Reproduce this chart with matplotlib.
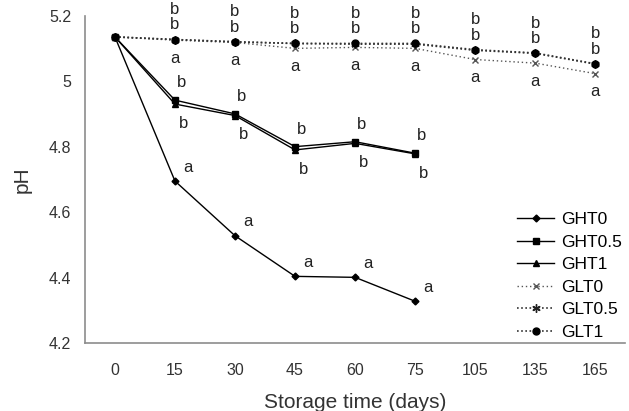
import matplotlib.pyplot as plt
import numpy as np

plt.rcParams['font.family'] = ['Liberation Sans', 'DejaVu Sans']

days = ['0', '15', '30', '45', '60', '75', '105', '135', '165']

# pH values
ght0 = [5.135, 4.695, 4.528, 4.404, 4.401, 4.328]
ght05 = [5.135, 4.942, 4.900, 4.800, 4.815, 4.780]
ght1 = [5.135, 4.930, 4.895, 4.790, 4.810, 4.778]
glt0 = [5.135, 5.125, 5.118, 5.100, 5.103, 5.100, 5.066, 5.055, 5.023]
glt05 = [5.135, 5.127, 5.120, 5.115, 5.113, 5.113, 5.094, 5.085, 5.052]
glt1 = [5.135, 5.127, 5.120, 5.115, 5.115, 5.115, 5.096, 5.086, 5.053]

# significance letters
letters_ght0 = ['', 'a', 'a', 'a', 'a', 'a']
letters_ght_up = ['', 'b', 'b', 'b', 'b', 'b']
letters_ght_dn = ['', 'b', 'b', 'b', 'b', 'b']
letters_glt_up = ['', 'b', 'b', 'b', 'b', 'b', 'b', 'b', 'b']
letters_glt_dn = ['', 'a', 'a', 'a', 'a', 'a', 'a', 'a', 'a']

fig = plt.figure(figsize=(6.29, 4.11), dpi=100)
ax = fig.add_axes([0.135, 0.165, 0.859, 0.797])

x = np.arange(len(days))
xh = x[:len(ght0)]

ax.plot(xh, ght0, color='black', lw=1, marker='D', ms=3.5, label='GHT0')
ax.plot(xh, ght05, color='black', lw=1, marker='s', ms=5, label='GHT0.5')
ax.plot(xh, ght1, color='black', lw=1, marker='^', ms=5, label='GHT1')
ax.plot(x, glt0, color='#555555', lw=1, ls=(0, (1, 2)), marker='x', ms=5,
        mec='#555555', label='GLT0')
ax.plot(x, glt05, color='#333333', lw=1.2, ls=(0, (1, 1.5)), marker=(6, 2, 0),
        ms=6, mec='#222222', label='GLT0.5')
ax.plot(x, glt1, color='#333333', lw=1.2, ls=(0, (1, 1.5)), marker='o', ms=5,
        mfc='black', mec='black', label='GLT1')

fs = 12
tc = '#222222'
for i, t in enumerate(letters_ght0):
    if t:
        ax.annotate(t, (x[i], ght0[i]), xytext=(9.5, 10), textcoords='offset points',
                    ha='center', va='center', fontsize=fs, color=tc)
for i, t in enumerate(letters_ght_up):
    if t:
        top = max(ght05[i], ght1[i])
        ax.annotate(t, (x[i], top), xytext=(4.5, 12.5), textcoords='offset points',
                    ha='center', va='center', fontsize=fs, color=tc)
for i, t in enumerate(letters_ght_dn):
    if t:
        bot = min(ght05[i], ght1[i])
        ax.annotate(t, (x[i], bot), xytext=(6, -14), textcoords='offset points',
                    ha='center', va='center', fontsize=fs, color=tc)
for i, t in enumerate(letters_glt_up):
    if t:
        top = max(glt05[i], glt1[i])
        ax.annotate(t, (x[i], top), xytext=(0, 10.5), textcoords='offset points',
                    ha='center', va='center', fontsize=fs, color=tc)
        ax.annotate(t, (x[i], top), xytext=(0, 21.5), textcoords='offset points',
                    ha='center', va='center', fontsize=fs, color=tc)
for i, t in enumerate(letters_glt_dn):
    if t:
        ax.annotate(t, (x[i], glt0[i]), xytext=(0, -13), textcoords='offset points',
                    ha='center', va='center', fontsize=fs, color=tc)

ax.set_xlim(-0.5, len(days) - 0.5)
ax.set_ylim(4.2, 5.2)
ax.set_xticks(x)
ax.set_xticklabels(days)
ax.set_yticks([4.2, 4.4, 4.6, 4.8, 5.0, 5.2])
ax.set_yticklabels(['4.2', '4.4', '4.6', '4.8', '5', '5.2'])
ax.tick_params(length=0, labelsize=11.5, colors='#333333')
ax.tick_params(axis='x', pad=14)
ax.tick_params(axis='y', pad=10)
for s in ['top', 'right']:
    ax.spines[s].set_visible(False)
for s in ['left', 'bottom']:
    ax.spines[s].set_color('#8c8c8c')
    ax.spines[s].set_linewidth(1.2)

ax.set_xlabel('Storage time (days)', fontsize=15, color='#333333', labelpad=11)
ax.set_ylabel('pH', fontsize=15, color='#333333', labelpad=12)

ax.legend(loc='lower right', bbox_to_anchor=(1.0, 0.0), frameon=False,
          fontsize=12.5, handlelength=2.1, labelspacing=0.42, handletextpad=0.4,
          borderaxespad=0.0, borderpad=0.2)

fig.savefig('out.png', dpi=100)
